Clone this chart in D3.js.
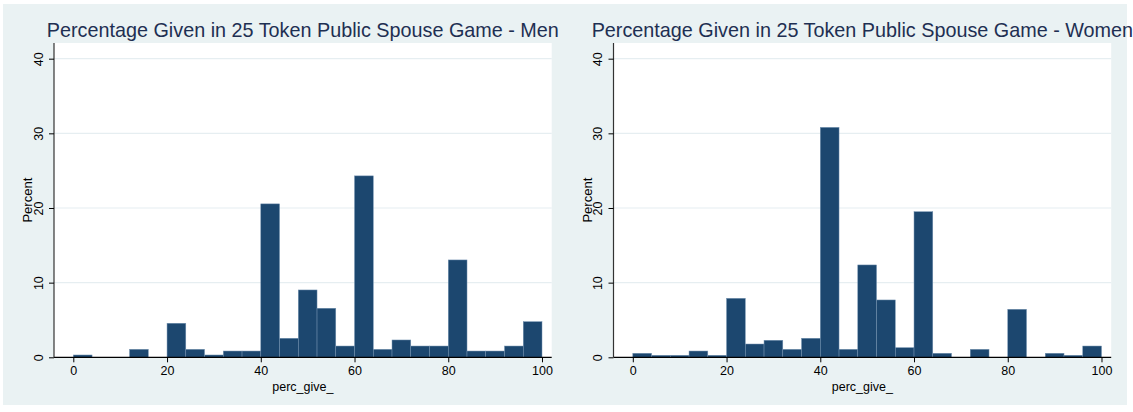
<!DOCTYPE html>
<html>
<head>
<meta charset="utf-8">
<script src="https://cdn.jsdelivr.net/npm/d3@7"></script>
<style>
  body { margin: 0; background: #ffffff; }
  text { font-family: "Liberation Sans", Arial, Helvetica, sans-serif; }
</style>
</head>
<body>
<svg id="chart" width="1133" height="412"></svg>
<script>
// Histogram bins: width 4, left edges 0..96
const binStarts = d3.range(0, 100, 4);
const binWidth = 4;

// Percent of respondents in each bin
const menPercent = [
  0.31, 0, 0, 1.07, 0, 4.56, 1.07, 0.31, 0.84, 0.84,
  20.55, 2.55, 9.02, 6.57, 1.51, 24.3, 1.07, 2.32, 1.51, 1.51,
  13.04, 0.84, 0.84, 1.51, 4.77
];
const womenPercent = [
  0.54, 0.27, 0.27, 0.84, 0.27, 7.9, 1.78, 2.28, 1.07, 2.55,
  30.8, 1.07, 12.37, 7.68, 1.29, 19.5, 0.54, 0, 1.07, 0,
  6.43, 0, 0.54, 0.27, 1.51
];

const xTickValues = [0, 20, 40, 60, 80, 100];
const yTickValues = [0, 10, 20, 30, 40];
const gridValues = [10, 20, 30, 40];

const panels = [
  { title: "Percentage Given in 25 Token Public Spouse Game - Men", values: menPercent, dx: 0 },
  { title: "Percentage Given in 25 Token Public Spouse Game - Women", values: womenPercent, dx: 559.5 }
];

const svg = d3.select("#chart");

// Graph region background
svg.append("rect")
  .attr("x", 3).attr("y", 4)
  .attr("width", 1124).attr("height", 401)
  .attr("fill", "#eaf2f3");

// Clip so the long right-hand title is cut at the graph edge
svg.append("defs").append("clipPath").attr("id", "edgeClip")
  .append("rect").attr("x", 0).attr("y", 0).attr("width", 1127).attr("height", 412);

const plotLeft = 54, plotRight = 551.7, plotTop = 43, plotBottom = 357.3;
const titleFont = 19.8;

function drawPanel(p) {
  const g = svg.append("g")
    .attr("transform", `translate(${p.dx},0)`)
    .attr("clip-path", "url(#edgeClip)");

  const x = d3.scaleLinear().domain([-4.12, 102.07]).range([plotLeft, plotRight]);
  const y = d3.scaleLinear().domain([0, 42.1]).range([plotBottom, plotTop]);

  // Plot region
  g.append("rect")
    .attr("x", plotLeft).attr("y", plotTop)
    .attr("width", plotRight - plotLeft).attr("height", plotBottom - plotTop)
    .attr("fill", "#ffffff");

  // Horizontal gridlines
  g.selectAll("line.grid").data(gridValues).join("line")
    .attr("class", "grid")
    .attr("x1", plotLeft).attr("x2", plotRight)
    .attr("y1", d => y(d)).attr("y2", d => y(d))
    .attr("stroke", "#e6eef1").attr("stroke-width", 1.2);

  // Bars
  const bins = binStarts.map((s, i) => ({ x0: s, x1: s + binWidth, v: p.values[i] }));
  g.selectAll("rect.bar").data(bins.filter(d => d.v > 0)).join("rect")
    .attr("class", "bar")
    .attr("x", d => x(d.x0))
    .attr("width", d => x(d.x1) - x(d.x0))
    .attr("y", d => y(d.v))
    .attr("height", d => y(0) - y(d.v))
    .attr("fill", "#1c476f")
    .attr("stroke", "#7391b0")
    .attr("stroke-width", 0.5);

  // X axis
  const xAxis = g.append("g")
    .attr("transform", `translate(0,${plotBottom})`)
    .call(d3.axisBottom(x).tickValues(xTickValues).tickSize(5).tickSizeOuter(0).tickPadding(4));
  xAxis.select(".domain").attr("d", `M${plotLeft},0H${plotRight}`).attr("stroke", "#000").attr("stroke-width", 1.2);
  xAxis.selectAll(".tick line").attr("stroke", "#000").attr("stroke-width", 1);
  xAxis.selectAll(".tick text")
    .attr("font-size", 12.5).attr("fill", "#000")
    .attr("font-family", "'Liberation Sans', Arial, sans-serif");

  // Y axis
  const yAxis = g.append("g")
    .attr("transform", `translate(${plotLeft},0)`)
    .call(d3.axisLeft(y).tickValues(yTickValues).tickSize(5).tickSizeOuter(0));
  yAxis.select(".domain").attr("d", `M0,${plotBottom}V${plotTop}`).attr("stroke", "#333").attr("stroke-width", 1.2);
  yAxis.selectAll(".tick line").attr("stroke", "#000").attr("stroke-width", 1);
  yAxis.selectAll(".tick text")
    .attr("x", 0).attr("y", 0).attr("dy", 0)
    .attr("transform", "translate(-11.5,0) rotate(-90)")
    .attr("text-anchor", "middle")
    .attr("font-size", 12.5).attr("fill", "#000")
    .attr("font-family", "'Liberation Sans', Arial, sans-serif");

  // Axis titles
  g.append("text")
    .attr("x", (plotLeft + plotRight) / 2).attr("y", 391)
    .attr("text-anchor", "middle").attr("font-size", 12.5).attr("fill", "#000")
    .text("perc_give_");

  g.append("text")
    .attr("transform", `translate(32,${(plotTop + plotBottom) / 2}) rotate(-90)`)
    .attr("text-anchor", "middle").attr("font-size", 13).attr("fill", "#000")
    .text("Percent");

  // Panel title
  g.append("text")
    .attr("x", (plotLeft + plotRight) / 2).attr("y", 37)
    .attr("text-anchor", "middle").attr("font-size", titleFont).attr("fill", "#1e2f52")
    .text(p.title);
}

panels.forEach(drawPanel);
</script>
</body>
</html>
